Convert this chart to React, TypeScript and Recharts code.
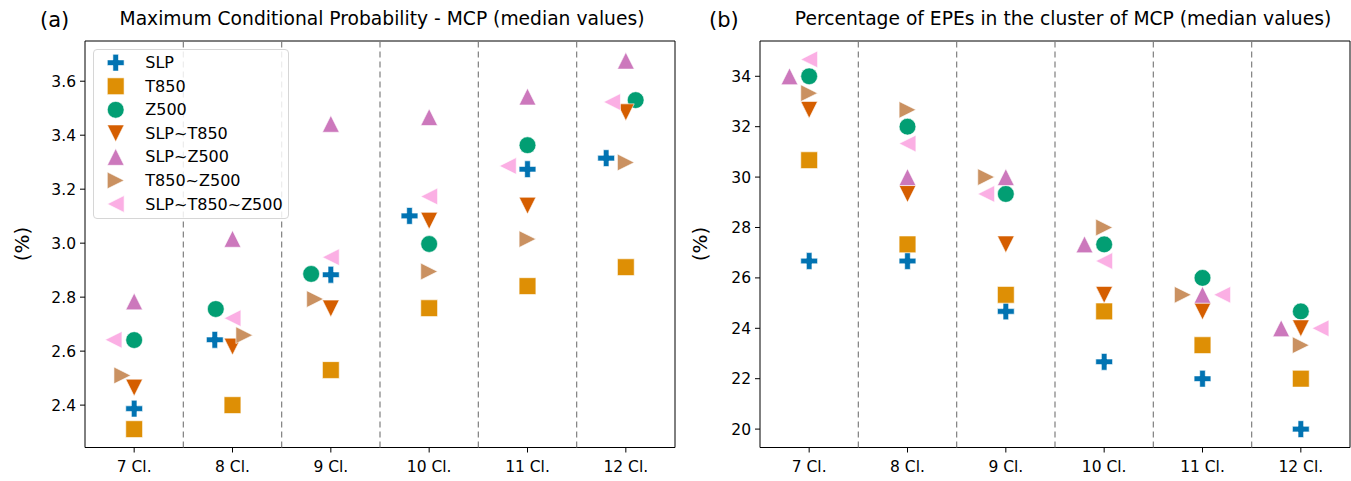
import React from 'react';
import { ScatterChart, Scatter, XAxis, YAxis, ReferenceLine, ReferenceArea, Legend } from 'recharts';

const FONT = '"DejaVu Sans", sans-serif';

const categories = ['7 Cl.', '8 Cl.', '9 Cl.', '10 Cl.', '11 Cl.', '12 Cl.'];
const seriesNames = ['SLP', 'T850', 'Z500', 'SLP~T850', 'SLP~Z500', 'T850~Z500', 'SLP~T850~Z500'];
const seriesColors = ['#0173b2', '#de8f05', '#029e73', '#d55e00', '#cc78bc', '#ca9161', '#fbafe4'];
const seriesMarkers = ['plus', 'square', 'circle', 'down', 'up', 'right', 'left'];

// (a) Maximum Conditional Probability (median values, %)
const mcpSLP = [2.387, 2.642, 2.883, 3.101, 3.274, 3.315];
const mcpT850 = [2.311, 2.4, 2.53, 2.759, 2.841, 2.911];
const mcpZ500 = [2.641, 2.756, 2.886, 2.997, 3.363, 3.53];
const mcpSLPT850 = [2.465, 2.617, 2.758, 3.083, 3.139, 3.485];
const mcpSLPZ500 = [2.784, 3.016, 3.442, 3.467, 3.543, 3.676];
const mcpT850Z500 = [2.51, 2.659, 2.793, 2.895, 3.015, 3.299];
const mcpAll = [2.642, 2.722, 2.948, 3.173, 3.286, 3.523];

// horizontal shifts (in category units) used to separate overlapping markers in (a)
const mcpShiftSLP = [0, -0.18, 0, -0.2, 0, -0.2];
const mcpShiftT850 = [0, 0, 0, 0, 0, 0];
const mcpShiftZ500 = [0, -0.17, -0.2, 0, 0, 0.1];
const mcpShiftSLPT850 = [0, 0, 0, 0, 0, 0];
const mcpShiftSLPZ500 = [0, 0, 0, 0, 0, 0];
const mcpShiftT850Z500 = [-0.12, 0.12, -0.16, 0, 0, 0];
const mcpShiftAll = [-0.21, 0, 0, 0, -0.2, -0.14];

// (b) Percentage of EPEs in the cluster of MCP (median values, %)
const epeSLP = [26.67, 26.67, 24.67, 22.67, 22.0, 20.0];
const epeT850 = [30.67, 27.33, 25.33, 24.67, 23.33, 22.0];
const epeZ500 = [34.0, 32.0, 29.33, 27.33, 26.0, 24.67];
const epeSLPT850 = [32.67, 29.33, 27.33, 25.33, 24.67, 24.0];
const epeSLPZ500 = [34.0, 30.0, 30.0, 27.33, 25.33, 24.0];
const epeT850Z500 = [33.33, 32.67, 30.0, 28.0, 25.33, 23.33];
const epeAll = [34.67, 31.33, 29.33, 26.67, 25.33, 24.0];

const epeShiftSLP = [0, 0, 0, 0, 0, 0];
const epeShiftT850 = [0, 0, 0, 0, 0, 0];
const epeShiftZ500 = [0, 0, 0, 0, 0, 0];
const epeShiftSLPT850 = [0, 0, 0, 0, 0, 0];
const epeShiftSLPZ500 = [-0.2, 0, 0, -0.2, 0, -0.2];
const epeShiftT850Z500 = [0, 0, -0.2, 0, -0.2, 0];
const epeShiftAll = [0, 0, -0.2, 0, 0.2, 0.2];

const mcpTicks = [2.4, 2.6, 2.8, 3.0, 3.2, 3.4, 3.6];
const epeTicks = [20, 22, 24, 26, 28, 30, 32, 34];
const mcpDomain = [2.243, 3.749];
const epeDomain = [19.27, 35.4];
const xTicks = [0, 1, 2, 3, 4, 5];
const separators = [0.5, 1.5, 2.5, 3.5, 4.5];

const mcpValues = [mcpSLP, mcpT850, mcpZ500, mcpSLPT850, mcpSLPZ500, mcpT850Z500, mcpAll];
const mcpShifts = [mcpShiftSLP, mcpShiftT850, mcpShiftZ500, mcpShiftSLPT850, mcpShiftSLPZ500, mcpShiftT850Z500, mcpShiftAll];
const epeValues = [epeSLP, epeT850, epeZ500, epeSLPT850, epeSLPZ500, epeT850Z500, epeAll];
const epeShifts = [epeShiftSLP, epeShiftT850, epeShiftZ500, epeShiftSLPT850, epeShiftSLPZ500, epeShiftT850Z500, epeShiftAll];

const build = (vals: number[], shifts: number[]) =>
  vals.map((v, i) => ({ x: i + shifts[i], y: v, cat: categories[i] }));

const MS = 8.4; // half marker size in px

function markerPath(kind: string, cx: number, cy: number, s: number): string {
  switch (kind) {
    case 'plus': {
      const a = s / 3;
      return `M${cx - a},${cy - s}H${cx + a}V${cy - a}H${cx + s}V${cy + a}H${cx + a}V${cy + s}H${cx - a}V${cy + a}H${cx - s}V${cy - a}H${cx - a}Z`;
    }
    case 'square':
      return `M${cx - s},${cy - s}H${cx + s}V${cy + s}H${cx - s}Z`;
    case 'up':
      return `M${cx},${cy - s}L${cx + s},${cy + s}L${cx - s},${cy + s}Z`;
    case 'down':
      return `M${cx},${cy + s}L${cx + s},${cy - s}L${cx - s},${cy - s}Z`;
    case 'right':
      return `M${cx + s},${cy}L${cx - s},${cy - s}L${cx - s},${cy + s}Z`;
    case 'left':
      return `M${cx - s},${cy}L${cx + s},${cy - s}L${cx + s},${cy + s}Z`;
    default:
      return '';
  }
}

function Marker({ kind, cx, cy, color }: { kind: string; cx: number; cy: number; color: string }) {
  if (kind === 'circle') {
    return <circle cx={cx} cy={cy} r={MS} fill={color} stroke="#ffffff" strokeWidth={0.6} />;
  }
  return <path d={markerPath(kind, cx, cy, MS)} fill={color} stroke="#ffffff" strokeWidth={0.6} />;
}

function LegendBox() {
  return (
    <div
      style={{
        width: 196,
        height: 170,
        boxSizing: 'border-box',
        border: '1px solid #d6d6d6',
        borderRadius: 4,
        background: 'rgba(255,255,255,0.85)',
      }}
    >
      <svg width={194} height={168} style={{ display: 'block' }}>
        {seriesNames.map((name, i) => {
          const y = 12.7 + i * 23.55;
          return (
            <g key={name}>
              <Marker kind={seriesMarkers[i]} cx={21.7} cy={y} color={seriesColors[i]} />
              <text x={51.3} y={y} dominantBaseline="central" fontFamily={FONT} fontSize={16} fill="#000">
                {name}
              </text>
            </g>
          );
        })}
      </svg>
    </div>
  );
}

type PanelProps = {
  width: number;
  marginLeft: number;
  marginRight: number;
  values: number[][];
  shifts: number[][];
  domain: number[];
  ticks: number[];
  fmt: (v: number) => string;
  legend: boolean;
};

function Panel({ width, marginLeft, marginRight, values, shifts, domain, ticks, fmt, legend }: PanelProps) {
  const tickStyle = { fill: '#000', fontSize: 15.5, fontFamily: FONT };
  return (
    <ScatterChart
      width={width}
      height={481}
      margin={{ top: 41, right: marginRight, bottom: 3.5, left: marginLeft }}
    >
      <XAxis
        type="number"
        dataKey="x"
        domain={[-0.5, 5.5]}
        ticks={xTicks}
        interval={0}
        allowDataOverflow
        tickFormatter={(v: number) => categories[Math.round(v)]}
        height={30}
        tickSize={5}
        tickMargin={8}
        axisLine={false}
        tickLine={{ stroke: '#000', strokeWidth: 1 }}
        tick={tickStyle}
      />
      <YAxis
        type="number"
        dataKey="y"
        domain={domain}
        ticks={ticks}
        interval={0}
        allowDataOverflow
        tickFormatter={fmt}
        width={60}
        tickSize={5}
        tickMargin={4}
        axisLine={false}
        tickLine={{ stroke: '#000', strokeWidth: 1 }}
        tick={tickStyle}
      />
      {separators.map((s) => (
        <ReferenceLine key={s} x={s} stroke="#7f7f7f" strokeWidth={1.2} strokeDasharray="6 4" />
      ))}
      <ReferenceArea
        x1={-0.5}
        x2={5.5}
        y1={domain[0]}
        y2={domain[1]}
        fill="none"
        fillOpacity={0}
        stroke="#000"
        strokeWidth={1}
        ifOverflow="visible"
      />
      {seriesNames.map((name, i) => (
        <Scatter
          key={name}
          name={name}
          data={build(values[i], shifts[i])}
          fill={seriesColors[i]}
          isAnimationActive={false}
          shape={(p: any) => <Marker kind={seriesMarkers[i]} cx={p.cx} cy={p.cy} color={seriesColors[i]} />}
        />
      ))}
      {legend && (
        <Legend
          layout="vertical"
          align="center"
          verticalAlign="middle"
          wrapperStyle={{ left: 93, top: 49, width: 196, height: 170 }}
          content={() => <LegendBox />}
        />
      )}
    </ScatterChart>
  );
}

export default function App() {
  return (
    <div style={{ position: 'absolute', left: 0, top: 0, width: 1351, height: 481, background: '#fff' }}>
      <div style={{ position: 'absolute', left: 0, top: 0 }}>
        <Panel
          width={680}
          marginLeft={25}
          marginRight={5}
          values={mcpValues}
          shifts={mcpShifts}
          domain={mcpDomain}
          ticks={mcpTicks}
          fmt={(v) => v.toFixed(1)}
          legend
        />
      </div>
      <div style={{ position: 'absolute', left: 680, top: 0 }}>
        <Panel
          width={671}
          marginLeft={20}
          marginRight={1}
          values={epeValues}
          shifts={epeShifts}
          domain={epeDomain}
          ticks={epeTicks}
          fmt={(v) => String(v)}
          legend={false}
        />
      </div>
      <svg
        width={1351}
        height={481}
        style={{ position: 'absolute', left: 0, top: 0, pointerEvents: 'none' }}
      >
        <text x={40} y={27} fontFamily={FONT} fontSize={21} fill="#000">(a)</text>
        <text x={382} y={25} textAnchor="middle" fontFamily={FONT} fontSize={18.7} fill="#000">
          Maximum Conditional Probability - MCP (median values)
        </text>
        <text x={709} y={27} fontFamily={FONT} fontSize={21} fill="#000">(b)</text>
        <text x={1063} y={25} textAnchor="middle" fontFamily={FONT} fontSize={18.7} fill="#000">
          Percentage of EPEs in the cluster of MCP (median values)
        </text>
        <text
          x={22}
          y={244}
          textAnchor="middle"
          dominantBaseline="central"
          fontFamily={FONT}
          fontSize={20}
          fill="#000"
          transform="rotate(-90, 22, 244)"
        >
          (%)
        </text>
        <text
          x={700}
          y={244}
          textAnchor="middle"
          dominantBaseline="central"
          fontFamily={FONT}
          fontSize={20}
          fill="#000"
          transform="rotate(-90, 700, 244)"
        >
          (%)
        </text>
      </svg>
    </div>
  );
}
